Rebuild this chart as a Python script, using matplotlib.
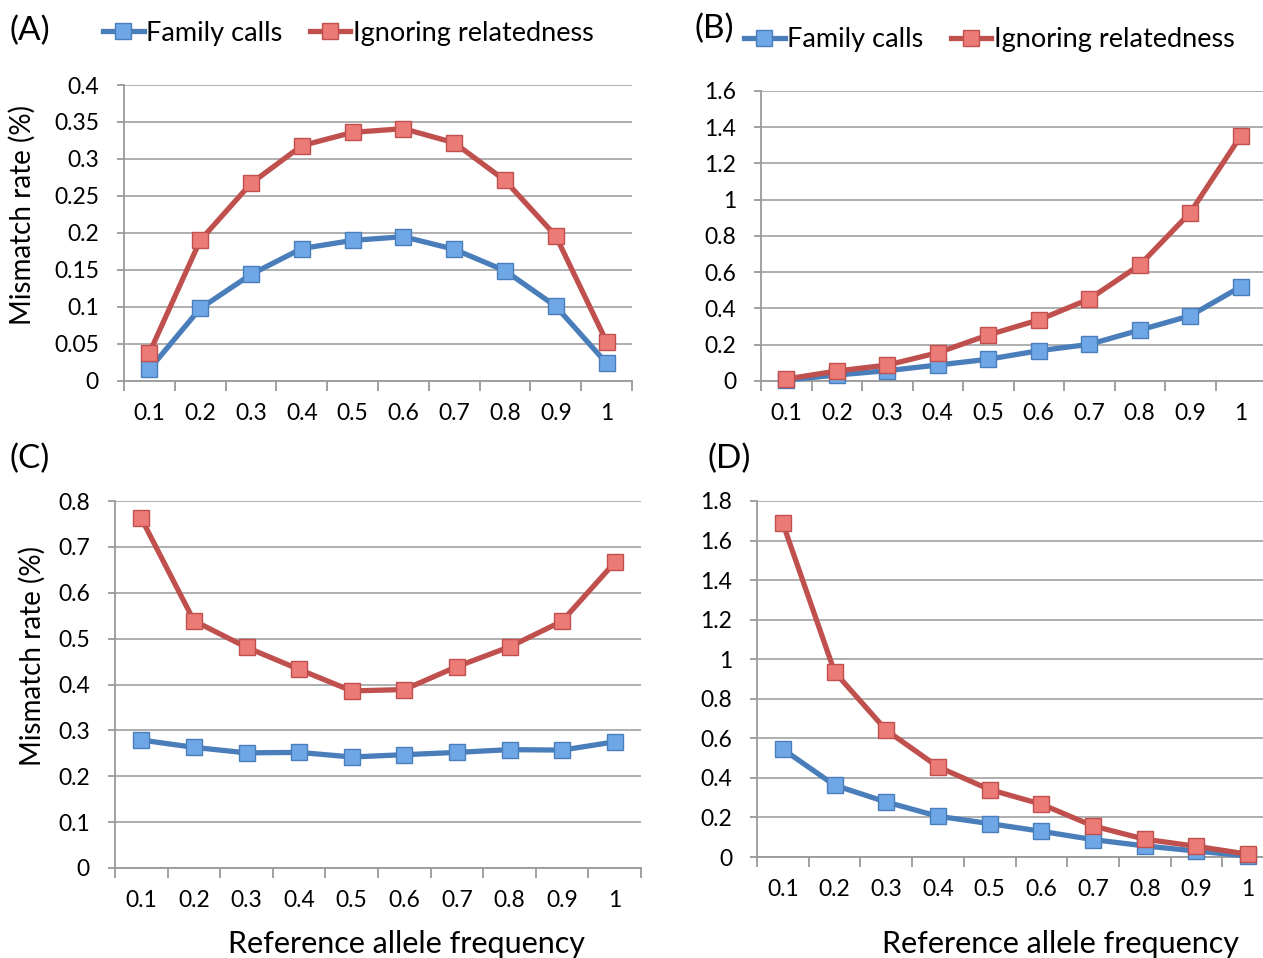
import numpy as np
import matplotlib.pyplot as plt
from matplotlib.ticker import MultipleLocator, FixedLocator, FuncFormatter

plt.rcParams['font.family'] = ['Lato', 'DejaVu Sans']

W, H = 1263, 958

freq_labels = ['0.1', '0.2', '0.3', '0.4', '0.5', '0.6', '0.7', '0.8', '0.9', '1']

a_family = [0.016, 0.098, 0.144, 0.179, 0.190, 0.195, 0.178, 0.149, 0.101, 0.024]
a_ignore = [0.038, 0.190, 0.267, 0.318, 0.336, 0.341, 0.322, 0.271, 0.196, 0.053]

b_family = [0.005, 0.033, 0.057, 0.088, 0.120, 0.167, 0.202, 0.281, 0.360, 0.520]
b_ignore = [0.011, 0.055, 0.088, 0.156, 0.254, 0.337, 0.452, 0.640, 0.929, 1.352]

c_family = [0.279, 0.263, 0.251, 0.252, 0.242, 0.247, 0.252, 0.258, 0.257, 0.275]
c_ignore = [0.762, 0.539, 0.481, 0.433, 0.386, 0.389, 0.439, 0.482, 0.538, 0.666]

d_family = [0.545, 0.363, 0.278, 0.206, 0.169, 0.130, 0.088, 0.056, 0.030, 0.005]
d_ignore = [1.687, 0.936, 0.641, 0.456, 0.341, 0.267, 0.157, 0.090, 0.054, 0.014]

blue, blue_fill = '#4a7ebb', '#6fa6e6'
red, red_fill = '#c0504d', '#ec7a76'
grey = '#9a9a9a'


def rect(l, t, r, b):
    return [l / W, 1 - b / H, (r - l) / W, (b - t) / H]


def fpos(x, y):
    return (x / W, 1 - y / H)


fig = plt.figure(figsize=(W / 100, H / 100), dpi=100)


def panel(box, fam, ign, ymax, step):
    ax = fig.add_axes(rect(*box))
    x = np.arange(len(freq_labels))
    ax.plot(x, fam, color=blue, lw=3.8, marker='s', ms=11, mfc=blue_fill,
            mec=blue, mew=1, label='Family calls', zorder=3, clip_on=False)
    ax.plot(x, ign, color=red, lw=3.8, marker='s', ms=11, mfc=red_fill,
            mec=red, mew=1, label='Ignoring relatedness', zorder=3, clip_on=False)
    ax.set_xlim(-0.5, len(freq_labels) - 0.5)
    ax.set_ylim(0, ymax)
    ax.yaxis.set_major_locator(MultipleLocator(step))
    ax.yaxis.set_major_formatter(FuncFormatter(lambda v, p: f'{round(v, 3):g}'))
    ax.set_xticks(x)
    ax.set_xticklabels(freq_labels)
    ax.xaxis.set_minor_locator(FixedLocator(np.arange(-0.5, len(freq_labels), 1)))
    ax.tick_params(axis='x', which='major', length=0, pad=16, labelsize=16.5)
    ax.tick_params(axis='x', which='minor', length=7, width=1.3, color=grey, direction='out')
    ax.tick_params(axis='y', length=5, width=1.3, color=grey, pad=13, labelsize=16.5)
    ax.grid(axis='y', color='#a8a8a8', lw=1.3)
    ax.set_axisbelow(True)
    for s in ['top', 'right']:
        ax.spines[s].set_visible(False)
    for s in ['left', 'bottom']:
        ax.spines[s].set_color(grey)
        ax.spines[s].set_linewidth(1.3)
    return ax


ax_a = panel((124, 85, 632, 381), a_family, a_ignore, 0.4, 0.05)
ax_b = panel((761, 91, 1266, 381), b_family, b_ignore, 1.6, 0.2)
ax_c = panel((115, 501, 641, 868), c_family, c_ignore, 0.8, 0.1)
ax_d = panel((757, 501, 1274, 857), d_family, d_ignore, 1.8, 0.2)

leg_kw = dict(bbox_transform=fig.transFigure, loc='center left', ncol=2, frameon=False,
              fontsize=19.5, handlelength=1.5, handletextpad=0.1, columnspacing=1.0,
              borderpad=0, borderaxespad=0)
ax_a.legend(bbox_to_anchor=fpos(103, 33), **leg_kw)
ax_b.legend(bbox_to_anchor=fpos(744, 40), **leg_kw)

for lab, (px, py) in zip(['(A)', '(B)', '(C)', '(D)'],
                         [(10, 31), (695, 29), (10, 459), (707, 459)]):
    fig.text(*fpos(px, py), lab, fontsize=24, ha='left', va='center')

fig.text(*fpos(22, 215), 'Mismatch rate (%)', fontsize=20, rotation=90, ha='center', va='center')
fig.text(*fpos(32, 656), 'Mismatch rate (%)', fontsize=20, rotation=90, ha='center', va='center')
fig.text(*fpos(406, 944), 'Reference allele frequency', fontsize=22, ha='center', va='center')
fig.text(*fpos(1061, 944), 'Reference allele frequency', fontsize=22, ha='center', va='center')

fig.savefig('out.png', dpi=100)
